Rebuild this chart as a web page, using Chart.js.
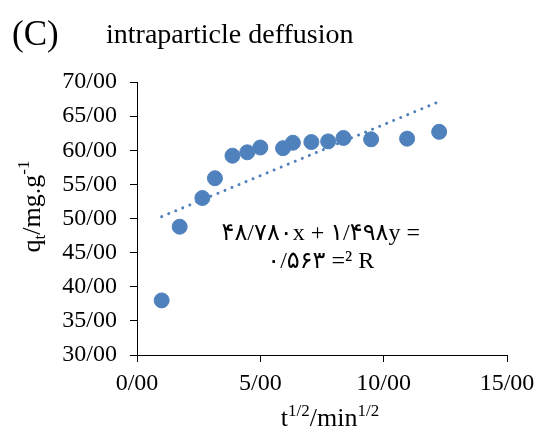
<!DOCTYPE html>
<html>
<head>
<meta charset="utf-8">
<script src="https://cdn.jsdelivr.net/npm/chart.js@4.4.1/dist/chart.umd.min.js"></script>
<style>
  html, body { margin: 0; padding: 0; background: #fff; }
  #wrap { width: 536px; height: 431px; position: relative; }
</style>
</head>
<body>
<div id="wrap"><canvas id="c" width="536" height="431"></canvas></div>
<script>
// ---- data ----
const xValues = [1.00, 1.73, 2.65, 3.16, 3.87, 4.47, 5.00, 5.92, 6.32, 7.07, 7.75, 8.37, 9.49, 10.95, 12.25];
const yValues = [38.0, 48.8, 53.0, 55.9, 59.2, 59.7, 60.4, 60.3, 61.1, 61.2, 61.3, 61.8, 61.6, 61.7, 62.7];
const trendX = [1.00, 12.25];
const trendY = [50.28, 67.13];
const xTickLabels = ['0/00', '5/00', '10/00', '15/00'];
const yTickLabels = ['30/00', '35/00', '40/00', '45/00', '50/00', '55/00', '60/00', '65/00', '70/00'];
const panelLabel = '(C)';
const titleText = 'intraparticle deffusion';
const eqLine1 = '۴۸/۷۸۰x + ۱/۴۹۸y =';
const eqLine2 = '۰/۵۶۳ =² R';

const FONT = '"Liberation Serif", "Times New Roman", "DejaVu Sans", serif';
const BLUE = '#4f81bd';

function drawRich(ctx, parts, x, y, align) {
  let total = 0;
  parts.forEach(p => { ctx.font = p.size + 'px ' + FONT; p.w = ctx.measureText(p.t).width; total += p.w; });
  let cx = align === 'center' ? x - total / 2 : (align === 'right' ? x - total : x);
  parts.forEach(p => {
    ctx.font = p.size + 'px ' + FONT;
    ctx.fillText(p.t, cx, y + (p.dy || 0));
    cx += p.w;
  });
}

const textPlugin = {
  id: 'texts',
  afterDraw(chart) {
    const ctx = chart.ctx;
    const ca = chart.chartArea;
    ctx.save();
    ctx.fillStyle = '#000';
    ctx.textBaseline = 'alphabetic';
    ctx.textAlign = 'left';
    // title
    ctx.font = '35px ' + FONT;
    ctx.fillText(panelLabel, 12, 45);
    ctx.font = '28px ' + FONT;
    ctx.fillText(titleText, 106, 43);
    // x axis title
    drawRich(ctx, [
      {t: 't', size: 26},
      {t: '1/2', size: 17, dy: -10},
      {t: '/min', size: 26},
      {t: '1/2', size: 17, dy: -10}
    ], (ca.left + ca.right) / 2 + 8, 426, 'center');
    // y axis title (rotated)
    ctx.save();
    ctx.translate(40, (ca.top + ca.bottom) / 2 - 12);
    ctx.rotate(-Math.PI / 2);
    drawRich(ctx, [
      {t: 'q', size: 26},
      {t: 't', size: 17, dy: 5},
      {t: '/mg.g', size: 26},
      {t: '-1', size: 17, dy: -11}
    ], 0, 0, 'center');
    ctx.restore();
    // equation
    const xs = chart.scales.x, ys = chart.scales.y;
    ctx.textAlign = 'center';
    ctx.font = '24px ' + FONT;
    ctx.fillText(eqLine1, xs.getPixelForValue(7.45), ys.getPixelForValue(46.9));
    ctx.fillText(eqLine2, xs.getPixelForValue(7.45), ys.getPixelForValue(42.7));
    ctx.restore();
  }
};

new Chart(document.getElementById('c'), {
  type: 'scatter',
  data: {
    datasets: [
      {
        label: 'qt',
        data: xValues.map((x, i) => ({x: x, y: yValues[i]})),
        backgroundColor: BLUE,
        borderColor: BLUE,
        pointRadius: 7.5,
        pointHoverRadius: 7.5,
        order: 1
      },
      {
        label: 'trend',
        type: 'line',
        data: trendX.map((x, i) => ({x: x, y: trendY[i]})),
        borderColor: BLUE,
        borderWidth: 3,
        borderDash: [0.01, 7.6],
        borderCapStyle: 'round',
        pointRadius: 0,
        fill: false,
        order: 2
      }
    ]
  },
  options: {
    responsive: false,
    animation: false,
    devicePixelRatio: 1,
    layout: { padding: { top: 82, right: 29, bottom: 0, left: 0 } },
    plugins: { legend: { display: false }, tooltip: { enabled: false }, title: { display: false } },
    scales: {
      x: {
        type: 'linear',
        min: 0, max: 15,
        afterFit(s) { s.height = 76; s.paddingLeft = 0; s.paddingRight = 0; },
        afterBuildTicks(s) { s.ticks = [0, 5, 10, 15].map(v => ({value: v})); },
        ticks: {
          stepSize: 5,
          padding: 7,
          color: '#000',
          font: { family: FONT, size: 24 },
          maxRotation: 0,
          callback: (v, i) => xTickLabels[i]
        },
        grid: { drawOnChartArea: false, drawTicks: true, tickLength: 7, color: '#000', tickColor: '#000' },
        border: { display: true, color: '#000', width: 1 }
      },
      y: {
        type: 'linear',
        min: 30, max: 70,
        afterFit(s) { s.width = 137; s.paddingTop = 0; s.paddingBottom = 0; },
        afterBuildTicks(s) { s.ticks = [30, 35, 40, 45, 50, 55, 60, 65, 70].map(v => ({value: v})); },
        ticks: {
          stepSize: 5,
          padding: 13,
          color: '#000',
          font: { family: FONT, size: 24 },
          callback: (v, i) => yTickLabels[i]
        },
        grid: { drawOnChartArea: false, drawTicks: true, tickLength: 7, color: '#000', tickColor: '#000' },
        border: { display: true, color: '#000', width: 1 }
      }
    }
  },
  plugins: [textPlugin]
});
</script>
</body>
</html>
